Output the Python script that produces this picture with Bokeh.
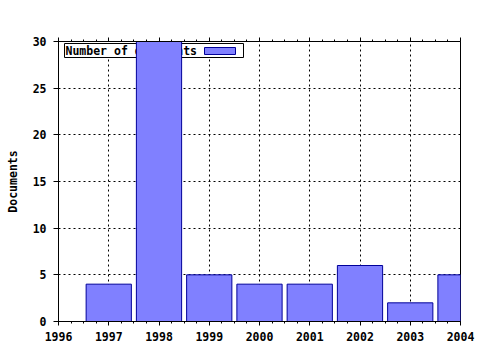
from bokeh.plotting import figure
from bokeh.models import (FixedTicker, LinearAxis, Range1d, BoxAnnotation, Label,
                          CustomJSTickFormatter)
from bokeh.embed import file_html
from bokeh.resources import INLINE

years = [1997, 1998, 1999, 2000, 2001, 2002, 2003, 2004]
docs = [4, 30, 5, 4, 4, 6, 2, 5]
x_ticks = [1996, 1997, 1998, 1999, 2000, 2001, 2002, 2003, 2004]
y_ticks = [0, 5, 10, 15, 20, 25, 30]
series_label = "Number of documents"
y_title = "Documents"

FONT = "DejaVu Sans Mono"
FS = "11.5px"
FILL = "#8080ff"
EDGE = "#000099"

p = figure(width=480, height=350, output_backend="svg", toolbar_location=None,
           x_range=Range1d(x_ticks[0], x_ticks[-1]), y_range=Range1d(y_ticks[0], y_ticks[-1]),
           min_border_left=58, min_border_right=20, min_border_top=41, min_border_bottom=29)
p.background_fill_color = "white"
p.border_fill_color = "white"
p.outline_line_color = "black"
p.outline_line_width = 1

p.vbar(x=years, top=docs, width=0.9, fill_color=FILL, line_color=EDGE, line_width=1)

minor_x = [x_ticks[0] + i * 0.25 for i in range(4 * (len(x_ticks) - 1) + 1)]
xt = FixedTicker(ticks=x_ticks, minor_ticks=minor_x)
yt = FixedTicker(ticks=y_ticks)

for ax in p.xaxis:
    ax.ticker = xt
    ax.major_tick_out = 4
    ax.major_tick_in = 0
    ax.minor_tick_out = 2
    ax.minor_tick_in = 0
    ax.major_label_standoff = 6
    ax.major_label_text_font = FONT
    ax.major_label_text_font_style = "bold"
    ax.major_label_text_font_size = FS
    ax.major_label_text_color = "black"
    ax.axis_line_color = "black"

for ax in p.yaxis:
    ax.ticker = yt
    ax.major_tick_out = 5
    ax.major_tick_in = 0
    ax.minor_tick_out = 0
    ax.minor_tick_in = 0
    ax.major_label_standoff = 7
    ax.major_label_text_font = FONT
    ax.major_label_text_font_style = "bold"
    ax.major_label_text_font_size = FS
    ax.major_label_text_color = "black"
    ax.axis_label = y_title
    ax.axis_label_text_font = FONT
    ax.axis_label_text_font_style = "bold"
    ax.axis_label_text_font_size = FS
    ax.axis_label_text_color = "black"
    ax.axis_label_standoff = 10
    ax.axis_line_color = "black"

top_ax = LinearAxis(ticker=xt, formatter=CustomJSTickFormatter(code="return ''"),
                    major_tick_out=4, major_tick_in=0, minor_tick_out=2, minor_tick_in=0,
                    major_label_text_font_size="0px", axis_line_color="black")
p.add_layout(top_ax, "above")

for g in (p.xgrid[0], p.ygrid[0]):
    g.grid_line_color = "black"
    g.grid_line_dash = "2 3"
    g.grid_line_width = 1
p.xgrid[0].ticker = xt
p.ygrid[0].ticker = yt

# legend (label first, swatch after) drawn under the bars; screen units from frame bottom-left
box = BoxAnnotation(left=6, right=185, top=278, bottom=264,
                    left_units="screen", right_units="screen", top_units="screen", bottom_units="screen",
                    fill_color="white", fill_alpha=1, line_color="black", line_alpha=1,
                    line_width=1, level="underlay")
sw = BoxAnnotation(left=146, right=177, top=274, bottom=267,
                   left_units="screen", right_units="screen", top_units="screen", bottom_units="screen",
                   fill_color=FILL, fill_alpha=1, line_color=EDGE, line_alpha=1,
                   line_width=1, level="underlay")
lab = Label(x=7, y=271, x_units="screen", y_units="screen", text=series_label,
            text_font=FONT, text_font_style="bold", text_font_size=FS, text_color="black",
            text_baseline="middle", text_align="left", level="underlay")
p.add_layout(box)
p.add_layout(sw)
p.add_layout(lab)

open("out.html", "w").write(file_html(p, INLINE))
